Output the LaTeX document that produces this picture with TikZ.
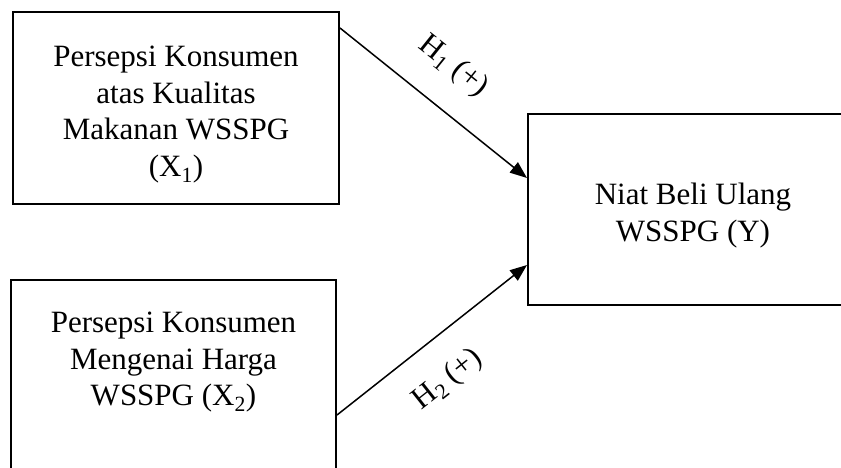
\documentclass[tikz,border=0pt]{standalone}
\usepackage{fontspec}
\setmainfont{Liberation Serif}
\usetikzlibrary{arrows.meta}
\newcommand{\Frame}{(0,0) rectangle (841,468)}
\newcommand{\Top}{\rule{0pt}{34pt}}

\begin{document}
\begin{tikzpicture}[x=1pt,y=-1pt,
  varbox/.style={draw,line width=2pt,align=center,inner sep=0pt,
    font=\fontsize{31}{36.5}\selectfont},
  arr/.style={line width=1.5pt,-{Triangle[length=17pt,width=13pt]}},
  lab/.style={sloped,font=\fontsize{31}{36.5}\selectfont}]
\useasboundingbox \Frame;
\clip \Frame;
\node[varbox,minimum width=326pt,minimum height=192pt] (x1) at (176,108)
  {\Top Persepsi Konsumen\\atas Kualitas\\Makanan WSSPG\\(X\textsubscript{1})};
\node[varbox,minimum width=325pt,minimum height=192pt] (x2) at (173.5,376)
  {\Top Persepsi Konsumen\\Mengenai Harga\\WSSPG (X\textsubscript{2})\\\strut};
\node[varbox,minimum width=330pt,minimum height=191pt] (y) at (693,209.5)
  {\Top Niat Beli Ulang\\WSSPG (Y)};
\draw[arr] ([yshift=80pt]x1.east) -- ([yshift=31.5pt]y.west)
  node[lab,pos=.47,yshift=41pt] (h1) {H\textsubscript{1} (+)};
\draw[arr] ([yshift=-39pt]x2.east) -- ([yshift=-55.5pt]y.west)
  node[lab,pos=.45,yshift=-41pt] (h2) {H\textsubscript{2} (+)};
\end{tikzpicture}
\end{document}
